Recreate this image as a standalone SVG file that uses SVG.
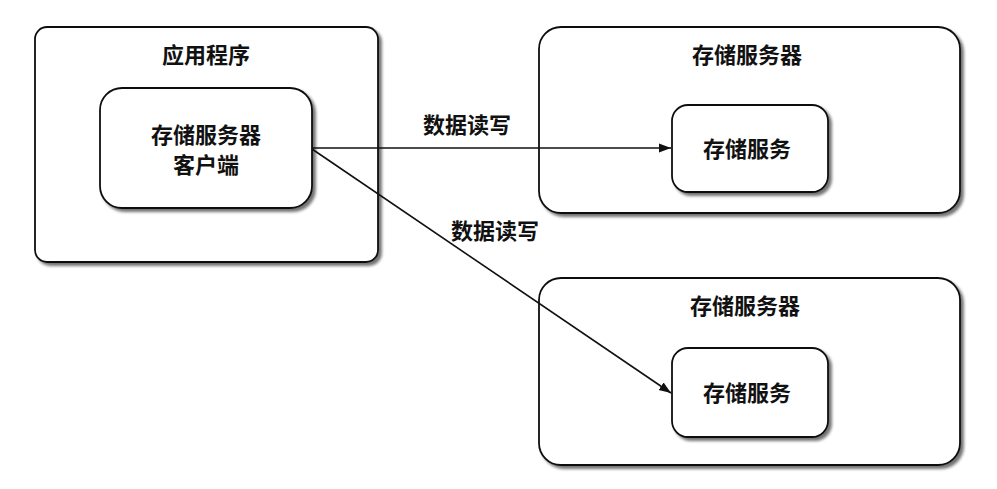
<svg xmlns="http://www.w3.org/2000/svg" width="997" height="489" viewBox="0 0 997 489">
<style>
.box{fill:#fff;stroke:#111;stroke-width:1.8}
.t{font-family:"Noto Sans CJK SC","Noto Sans",sans-serif;font-size:22px;font-weight:bold;fill:#111;text-anchor:middle}
.edge{fill:none;stroke:#111;stroke-width:1.6}
</style>
<defs>
<filter id="sh" x="-10%" y="-10%" width="125%" height="130%">
<feGaussianBlur in="SourceAlpha" stdDeviation="1.5"/>
<feOffset dx="3" dy="3" result="b"/>
<feComponentTransfer><feFuncA type="linear" slope="0.55"/></feComponentTransfer>
<feMerge><feMergeNode/><feMergeNode in="SourceGraphic"/></feMerge>
</filter>
<marker id="ah" viewBox="0 0 12 12" refX="12" refY="6" markerWidth="12" markerHeight="12" markerUnits="userSpaceOnUse" orient="auto">
<path d="M0,1.5 L12,6 L0,10.5 Z" fill="#111"/>
</marker>
</defs>
<rect width="997" height="489" fill="#fff"/>
<g id="app">
<rect class="box" x="35" y="27" width="343" height="235" rx="12" filter="url(#sh)"/>
<text class="t" x="206" y="63">应用程序</text>
</g>
<g id="client">
<rect class="box" x="100" y="88" width="212" height="120" rx="22" filter="url(#sh)"/>
<text class="t" x="206" y="143">存储服务器</text>
<text class="t" x="206" y="173">客户端</text>
</g>
<g id="server1">
<rect class="box" x="539" y="27" width="421" height="186" rx="22" filter="url(#sh)"/>
<text class="t" x="747" y="63">存储服务器</text>
</g>
<g id="service1">
<rect class="box" x="672" y="105" width="156" height="87" rx="16" filter="url(#sh)"/>
<text class="t" x="747" y="157">存储服务</text>
</g>
<g id="server2">
<rect class="box" x="539" y="278" width="421" height="187" rx="22" filter="url(#sh)"/>
<text class="t" x="745" y="314">存储服务器</text>
</g>
<g id="service2">
<rect class="box" x="672" y="348" width="156" height="89" rx="16" filter="url(#sh)"/>
<text class="t" x="747" y="401">存储服务</text>
</g>
<g id="connectors">
<line class="edge" x1="312" y1="148" x2="671" y2="148" marker-end="url(#ah)"/>
<line class="edge" x1="312" y1="149" x2="671" y2="393" marker-end="url(#ah)"/>
<text class="t" x="467" y="133">数据读写</text>
<text class="t" x="495" y="239">数据读写</text>
</g>
</svg>
